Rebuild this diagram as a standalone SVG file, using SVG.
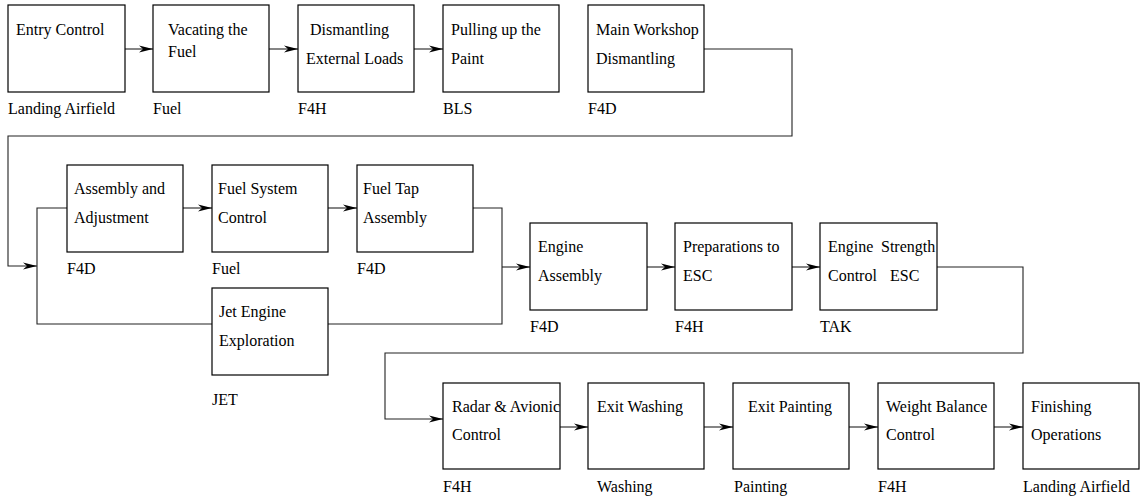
<svg xmlns="http://www.w3.org/2000/svg" width="1146" height="500" viewBox="0 0 1146 500">
<style>
.box{fill:#fff;stroke:#000;stroke-width:1.2}
.t{font-family:'Liberation Serif','DejaVu Serif',serif;font-size:16px;fill:#000}
.ln{fill:none;stroke:#222;stroke-width:1.1}
.ar{marker-end:url(#ah)}
</style>
<defs>
<marker id="ah" markerUnits="userSpaceOnUse" viewBox="0 0 14 8" refX="14" refY="4" markerWidth="14" markerHeight="8" orient="auto">
<path d="M0,0.5 L14,4 L0,7.5 L4,4 z" fill="#000"/>
</marker>
</defs>
<rect width="1146" height="500" fill="#fff"/>
<g id="connectors">
<line class="ln ar" x1="125" y1="49" x2="153" y2="49"/>
<line class="ln ar" x1="269" y1="49" x2="298" y2="49"/>
<line class="ln ar" x1="414" y1="49" x2="443" y2="49"/>
<polyline class="ln ar" points="704,49 792,49 792,136 8,136 8,266 37,266"/>
<polyline class="ln" points="67,208 37,208 37,324 212,324"/>
<line class="ln ar" x1="183" y1="208" x2="212" y2="208"/>
<line class="ln ar" x1="328" y1="208" x2="357" y2="208"/>
<polyline class="ln" points="473,208 502,208 502,324 328,324"/>
<line class="ln ar" x1="502" y1="267" x2="530" y2="267"/>
<line class="ln ar" x1="647" y1="267" x2="675" y2="267"/>
<line class="ln ar" x1="792" y1="267" x2="820" y2="267"/>
<polyline class="ln ar" points="937,267 1023,267 1023,353 385,353 385,419 443,419"/>
<line class="ln ar" x1="560" y1="427" x2="588" y2="427"/>
<line class="ln ar" x1="704" y1="427" x2="733" y2="427"/>
<line class="ln ar" x1="849" y1="427" x2="878" y2="427"/>
<line class="ln ar" x1="994" y1="427" x2="1023" y2="427"/>
</g>
<g font-family="'Liberation Serif', 'DejaVu Serif', serif">
<g id="entry-control"><rect class="box" x="8" y="5" width="117" height="87"/><text class="t" x="16" y="35">Entry Control</text><text class="t" x="8" y="114">Landing Airfield</text></g>
<g id="vacating-fuel"><rect class="box" x="153" y="5" width="116" height="87"/><text class="t" x="168" y="35">Vacating the</text><text class="t" x="168" y="57">Fuel</text><text class="t" x="153" y="114">Fuel</text></g>
<g id="dismantling-external"><rect class="box" x="298" y="5" width="116" height="87"/><text class="t" x="310" y="35">Dismantling</text><text class="t" x="306" y="64">External Loads</text><text class="t" x="298" y="114">F4H</text></g>
<g id="pulling-paint"><rect class="box" x="443" y="5" width="116" height="87"/><text class="t" x="451" y="35">Pulling up the</text><text class="t" x="451" y="64">Paint</text><text class="t" x="443" y="114">BLS</text></g>
<g id="main-workshop"><rect class="box" x="588" y="5" width="116" height="87"/><text class="t" x="596" y="35">Main Workshop</text><text class="t" x="596" y="64">Dismantling</text><text class="t" x="588" y="114">F4D</text></g>
<g id="assembly-adjustment"><rect class="box" x="67" y="165" width="116" height="87"/><text class="t" x="74" y="194">Assembly and</text><text class="t" x="74" y="223">Adjustment</text><text class="t" x="67" y="274">F4D</text></g>
<g id="fuel-system"><rect class="box" x="212" y="165" width="116" height="87"/><text class="t" x="218" y="194">Fuel System</text><text class="t" x="218" y="223">Control</text><text class="t" x="212" y="274">Fuel</text></g>
<g id="fuel-tap"><rect class="box" x="357" y="165" width="116" height="87"/><text class="t" x="363" y="194">Fuel Tap</text><text class="t" x="363" y="223">Assembly</text><text class="t" x="357" y="274">F4D</text></g>
<g id="jet-engine"><rect class="box" x="212" y="288" width="116" height="87"/><text class="t" x="219" y="317">Jet Engine</text><text class="t" x="219" y="346">Exploration</text><text class="t" x="212" y="405">JET</text></g>
<g id="engine-assembly"><rect class="box" x="530" y="223" width="117" height="87"/><text class="t" x="538" y="252">Engine</text><text class="t" x="538" y="281">Assembly</text><text class="t" x="530" y="332">F4D</text></g>
<g id="preparations"><rect class="box" x="675" y="223" width="117" height="87"/><text class="t" x="683" y="252">Preparations to</text><text class="t" x="683" y="281">ESC</text><text class="t" x="675" y="332">F4H</text></g>
<g id="engine-strength"><rect class="box" x="820" y="223" width="117" height="87"/><text class="t" x="828" y="252">Engine <tspan x="881">Strength</tspan></text><text class="t" x="828" y="281">Control <tspan x="890">ESC</tspan></text><text class="t" x="820" y="332">TAK</text></g>
<g id="radar-avionic"><rect class="box" x="443" y="383" width="117" height="86"/><text class="t" x="452" y="412">Radar &amp; Avionic</text><text class="t" x="452" y="440">Control</text><text class="t" x="443" y="492">F4H</text></g>
<g id="exit-washing"><rect class="box" x="588" y="383" width="116" height="86"/><text class="t" x="597" y="412">Exit Washing</text><text class="t" x="597" y="492">Washing</text></g>
<g id="exit-painting"><rect class="box" x="733" y="383" width="116" height="86"/><text class="t" x="748" y="412">Exit Painting</text><text class="t" x="734" y="492">Painting</text></g>
<g id="weight-balance"><rect class="box" x="878" y="383" width="116" height="86"/><text class="t" x="886" y="412">Weight Balance</text><text class="t" x="886" y="440">Control</text><text class="t" x="878" y="492">F4H</text></g>
<g id="finishing"><rect class="box" x="1023" y="383" width="116" height="86"/><text class="t" x="1031" y="412">Finishing</text><text class="t" x="1031" y="440">Operations</text><text class="t" x="1023" y="492">Landing Airfield</text></g>
</g>
</svg>
